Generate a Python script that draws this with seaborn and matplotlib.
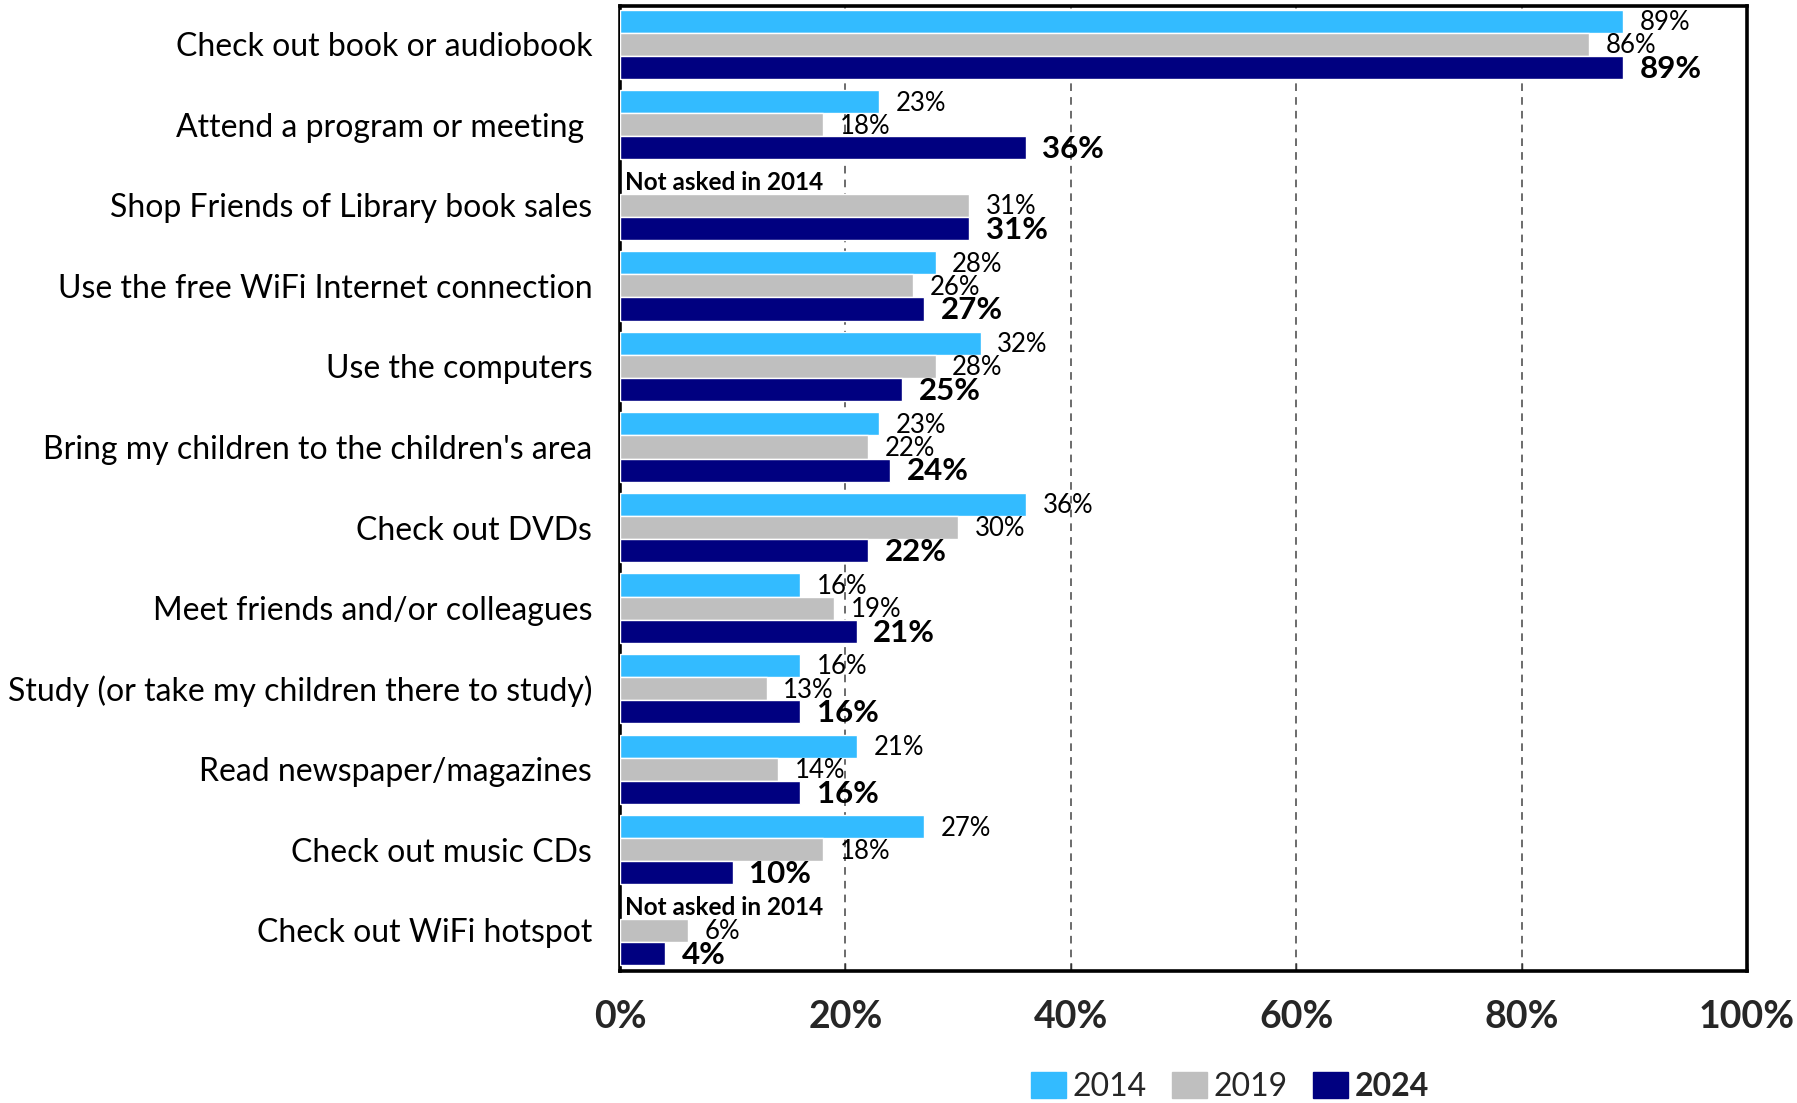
import numpy as np
import pandas as pd
import matplotlib
matplotlib.use("Agg")
import matplotlib.pyplot as plt
import seaborn as sns

activities = [
    "Check out book or audiobook",
    "Attend a program or meeting ",
    "Shop Friends of Library book sales",
    "Use the free WiFi Internet connection",
    "Use the computers",
    "Bring my children to the children's area",
    "Check out DVDs",
    "Meet friends and/or colleagues",
    "Study (or take my children there to study)",
    "Read newspaper/magazines",
    "Check out music CDs",
    "Check out WiFi hotspot",
]
years = ["2014", "2019", "2024"]
pct_2014 = [89, 23, np.nan, 28, 32, 23, 36, 16, 16, 21, 27, np.nan]
pct_2019 = [86, 18, 31, 26, 28, 22, 30, 19, 13, 14, 18, 6]
pct_2024 = [89, 36, 31, 27, 25, 24, 22, 21, 16, 16, 10, 4]
colors = ["#33BBFF", "#BFBFBF", "#000080"]
x_ticks = [0, 20, 40, 60, 80, 100]
x_tick_labels = ["0%", "20%", "40%", "60%", "80%", "100%"]
not_asked_text = "Not asked in 2014"

df = pd.DataFrame({
    "activity": activities * 3,
    "year": sum([[y] * len(activities) for y in years], []),
    "pct": pct_2014 + pct_2019 + pct_2024,
})

sns.set_theme(style="white")
plt.rcParams["font.family"] = ["Lato", "DejaVu Sans"]

fig = plt.figure(figsize=(17.97, 11.03), dpi=100)
ax = fig.add_axes([620 / 1797, 1 - 971 / 1103, 1127 / 1797, 965 / 1103])

bar_w = 0.86
sns.barplot(
    data=df, y="activity", x="pct", hue="year", order=activities,
    hue_order=years, palette=colors, width=bar_w, orient="h",
    errorbar=None, saturation=1, ax=ax, legend=False, zorder=3,
)

ax.set_xlim(0, 100)
ax.set_ylim(len(activities) - 0.495, -0.475)
ax.set_xticks(x_ticks)
ax.set_xticklabels(x_tick_labels, fontsize=27, fontweight="bold")
ax.set_xlabel("")
ax.set_ylabel("")
ax.tick_params(axis="x", direction="in", length=6, width=1, color="black", pad=21,
               bottom=True)
ax.tick_params(axis="y", length=0, pad=20, labelsize=23)
for lab in ax.get_yticklabels():
    lab.set_color("black")

ax.grid(False)
for xv in x_ticks[1:-1]:
    ax.axvline(xv, color="#444444", linewidth=1.1, linestyle=(0, (5, 4)), zorder=1)

for s in ax.spines.values():
    s.set_visible(True)
    s.set_color("black")
    s.set_linewidth(2.6)

# value labels: plain for earlier years, bold and larger for 2024
for cont, yr in zip(ax.containers, years):
    bold = yr == "2024"
    for p in cont.patches:
        w = p.get_width()
        if np.isnan(w) or w <= 0:
            continue
        ax.annotate(
            f"{w:.0f}%", (w, p.get_y() + p.get_height() / 2),
            xytext=(12, -1), textcoords="offset points", va="center", ha="left",
            fontsize=22.5 if bold else 18.5, fontweight="bold" if bold else "normal",
            color="black", zorder=5,
        )

# categories not surveyed in 2014
bar_h = bar_w / 3
for i, v in enumerate(pct_2014):
    if np.isnan(v):
        ax.text(0.4, i - bar_h, not_asked_text, va="center", ha="left",
                fontsize=17.5, fontweight="bold", color="black", zorder=5)

handles = [plt.Rectangle((0, 0), 1, 1, color=c) for c in colors]
leg = fig.legend(handles, years, loc="center", bbox_to_anchor=(1230 / 1797, 1 - 1087 / 1103),
                 ncol=3, frameon=False, fontsize=23, handlelength=1.1, handleheight=0.9,
                 handletextpad=0.2, columnspacing=0.8)
leg.get_texts()[2].set_fontweight("bold")

fig.savefig("out.png", dpi=100, facecolor="white")
